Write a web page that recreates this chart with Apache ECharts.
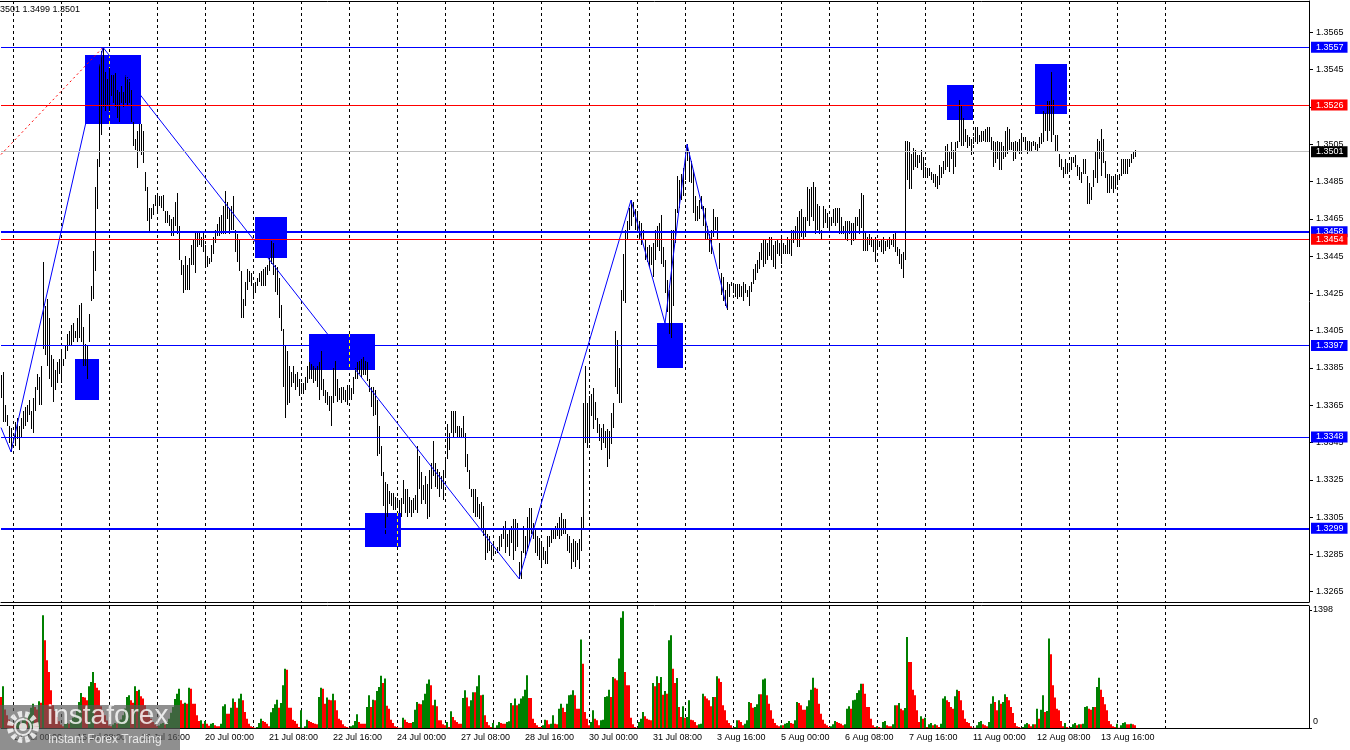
<!DOCTYPE html>
<html><head><meta charset="utf-8">
<script src="https://cdn.jsdelivr.net/npm/echarts@6/dist/echarts.min.js"></script>
<style>html,body{margin:0;padding:0;background:#fff}#c{width:1350px;height:750px}</style>
</head><body><div id="c"></div>
<script>
// ---------------- data (prices as pips above BASE) ----------------
const BASE = 1.3;
const highPips = [
381,383,365,360,354,353,348,356,358,354, 358,362,364,365,368,362,369,375,382,380,
386,442,418,422,412,392,390,384,388,390, 395,390,397,403,405,408,409,405,412,419,
420,407,398,397,414,429,448,482,497,548, 555,557,544,540,546,542,542,543,534,533,
536,533,542,541,540,534,517,508,512,516, 516,512,490,482,471,471,473,478,478,477,
477,478,469,469,467,465,466,474,479,461, 443,440,445,440,444,451,454,458,458,458,
455,458,451,445,444,451,455,459,462,466, 467,472,480,474,471,472,477,459,457,454,
437,422,431,438,437,436,429,431,433,436, 437,438,439,440,444,453,452,440,439,433,
419,406,397,394,386,383,386,382,383,379, 377,377,380,386,388,387,386,385,386,388,
394,379,373,372,370,370,385,389,379,374, 375,375,373,376,375,374,380,385,388,389,
390,391,389,388,379,375,375,373,368,354, 343,329,324,323,319,318,318,316,315,314,
315,325,320,320,316,314,315,317,343,338, 329,322,327,323,330,334,346,334,331,329,
327,330,337,355,350,362,362,362,354,354, 353,359,350,339,330,320,320,320,316,312,
313,311,298,296,295,290,291,287,289,295, 296,300,303,296,298,300,304,304,302,281,
287,300,295,305,310,310,302,298,295,294, 291,289,287,295,295,298,299,300,302,305,
307,304,304,296,295,291,293,292,291,293, 305,366,386,366,370,371,374,367,358,355,
353,355,351,352,351,361,366,405,400,385, 427,446,459,464,471,475,474,470,468,464,
463,459,454,450,451,450,452,459,461,463, 467,450,443,432,427,459,459,470,488,486,
489,492,498,505,501,496,491,477,472,475, 477,472,471,461,457,459,470,466,466,452,
436,434,427,431,430,431,430,430,430,430, 429,431,430,427,429,431,438,441,443,447,
452,454,454,452,455,455,451,453,454,452, 455,452,451,455,454,459,459,461,466,469,
470,466,466,482,481,482,485,482,473,472, 459,472,470,468,465,466,470,471,471,471,
466,461,464,464,464,463,463,466,466,470, 479,478,458,455,457,455,454,455,454,453,
454,455,453,454,455,454,457,458,450,449, 446,447,507,507,506,500,503,502,499,499,
502,498,493,492,492,490,489,489,488,494, 493,496,504,505,501,506,502,506,507,529,
526,519,513,510,509,508,509,514,514,510, 512,512,513,514,514,509,507,506,507,506,
506,504,512,514,513,506,506,507,506,508, 510,509,509,507,507,506,507,506,505,509,
511,523,522,528,528,544,529,510,510,500, 497,493,497,495,495,498,498,499,494,493,
490,497,497,488,484,482,491,501,508,507, 513,508,496,489,489,488,488,489,488,489,
497,497,497,497,497,500,501,502];
const lowPips = [
369,356,356,354,345,340,345,343,347,341, 348,352,354,356,360,352,350,362,373,365,
365,395,392,386,379,375,367,373,377,382, 377,386,390,394,397,397,399,401,399,401,
399,386,386,379,399,421,422,437,470,493, 510,525,523,526,523,531,527,525,519,517,
527,525,527,526,527,517,504,502,492,501, 499,495,480,464,458,465,467,472,469,472,
471,469,463,463,461,456,456,461,457,443, 435,425,427,427,427,440,440,436,450,451,
450,447,439,439,441,442,446,452,456,456, 457,457,457,465,457,459,459,447,442,437,
412,412,418,427,431,429,422,425,429,431, 429,429,429,435,437,441,435,426,424,412,
405,375,358,365,366,375,377,373,375,370, 372,371,373,377,379,379,377,378,375,368,
373,370,366,365,362,354,366,370,367,368, 366,368,367,365,368,368,371,379,379,382,
380,381,381,378,372,364,359,360,338,339, 327,311,296,305,312,311,309,309,310,307,
305,312,307,305,307,305,307,309,307,320, 312,314,312,304,305,320,327,321,320,316,
320,314,327,336,341,350,348,350,348,348, 348,348,332,329,320,316,307,305,305,304,
299,295,282,286,287,282,284,285,286,287, 289,293,286,289,284,291,282,287,289,272,
272,286,283,287,291,296,293,286,284,282, 278,282,280,280,289,291,293,293,295,293,
295,296,296,287,286,277,281,278,282,277, 287,298,345,342,345,359,352,357,350,346,
341,345,342,332,336,344,353,375,371,366, 366,421,420,454,459,461,466,459,459,454,
451,454,443,442,439,440,434,443,450,448, 441,439,425,415,403,401,418,452,468,471,
475,477,486,496,485,484,468,464,464,465, 470,461,454,454,447,446,455,459,454,438,
424,421,418,416,423,429,425,423,422,423, 423,421,425,423,418,426,430,432,436,438,
443,439,441,443,445,443,439,438,446,445, 441,446,446,446,446,445,452,454,450,450,
455,454,455,464,461,466,464,457,459,457, 454,460,463,460,459,461,463,461,463,457,
457,457,454,453,457,451,453,454,461,457, 460,448,448,448,451,450,447,442,449,450,
447,446,448,450,449,451,450,447,445,441, 438,433,443,486,481,481,491,493,492,495,
491,487,487,487,488,486,484,482,481,483, 487,489,491,493,490,497,489,493,503,506,
504,504,506,503,504,499,505,506,505,506, 506,507,506,506,506,502,493,495,497,491,
491,497,498,500,502,502,496,497,501,500, 501,506,502,500,501,501,504,502,501,503,
505,506,512,507,512,506,510,501,501,493, 491,487,489,489,491,491,495,493,488,486,
484,489,489,473,473,475,482,487,484,497, 488,495,487,479,479,481,479,481,483,486,
488,489,489,489,493,495,497,498];
const volumes = [
367,494,220,150,100,60,40,30,60,70, 50,90,120,110,180,240,288,249,220,316,
300,1335,1039,802,664,446,269,200,130,80, 40,20,50,60,50,80,120,150,200,308,
415,367,360,328,494,545,664,533,478,446, 257,200,150,90,30,20,40,60,50,90,
100,150,230,367,387,328,300,494,438,454, 375,348,269,200,150,110,70,40,20,30,
50,60,40,70,110,180,250,344,407,466, 328,288,300,288,478,466,288,288,150,83,
91,51,83,51,28,51,59,32,20,20, 51,257,280,170,170,241,348,308,241,348,
407,328,190,111,51,20,12,3,12,59, 111,83,71,51,20,186,237,280,336,241,
296,506,703,691,241,241,99,83,51,12, 209,3,20,99,83,71,59,51,43,367,
478,466,288,360,336,328,407,328,209,111, 91,43,20,12,3,20,32,83,162,71,
51,51,51,249,387,249,336,328,438,486, 620,533,585,265,229,99,59,20,12,3,
3,122,99,71,59,59,71,217,308,288, 280,328,407,525,573,506,269,336,257,91,
91,43,32,71,12,198,130,91,71,51, 51,356,446,360,257,328,423,423,494,624,
387,395,150,71,32,12,59,3,32,71, 59,51,51,71,79,296,269,348,269,288,
348,375,454,624,356,356,111,59,32,12, 12,32,99,91,43,51,150,51,43,229,
288,241,190,288,387,395,446,387,229,229, 1047,762,190,111,32,71,209,111,91,32,
91,99,367,375,454,367,604,585,565,822, 1307,1383,664,506,506,122,43,12,3,71,
111,190,138,111,99,91,533,494,612,533, 604,395,438,407,1039,1098,703,533,593,249,
130,257,122,130,328,99,91,71,32,43, 51,407,375,348,328,257,367,367,612,585,
545,269,209,91,59,32,3,12,91,91, 71,32,51,91,308,296,241,249,280,399,
399,573,585,387,288,209,111,59,32,20, 32,32,51,59,83,59,51,91,308,296,
269,217,217,257,328,454,596,478,466,288, 170,99,51,32,12,20,43,83,71,59,
51,32,43,229,257,229,328,336,415,446, 525,525,407,249,249,111,32,12,20,12,
3,71,83,32,20,20,43,269,269,296, 229,209,237,1078,782,782,454,387,209,71,
138,111,122,12,43,59,32,43,32,12, 51,348,375,328,308,249,229,375,454,438,
328,209,111,71,59,20,4,2,32,71, 83,43,32,20,71,288,375,308,209,328,
288,308,399,367,328,249,178,59,20,12, 2,12,43,59,43,20,43,43,229,111,
217,387,190,201,1059,873,506,360,229,209, 83,20,59,12,3,12,43,59,32,43,
43,51,249,257,229,217,249,249,486,596, 454,367,280,209,83,43,20,12,51,4,
32,59,67,43,43,51,43,32];

const xTickLabels = ['14 Jul 00:00','15 Jul 08:00','16 Jul 16:00','20 Jul 00:00','21 Jul 08:00','22 Jul 16:00',
  '24 Jul 00:00','27 Jul 08:00','28 Jul 16:00','30 Jul 00:00','31 Jul 08:00','3 Aug 16:00',
  '5 Aug 00:00','6 Aug 08:00','7 Aug 16:00','11 Aug 00:00','12 Aug 08:00','13 Aug 16:00'];
const FIRST_TICK = 6, TICK_STEP = 32, DAY_STEP = 24, LAST_GRID = 582, SLOTS = 655;
const yTicks = [1.3265,1.3285,1.3305,1.3325,1.3345,1.3365,1.3385,1.3405,1.3425,1.3445,1.3465,1.3485,1.3505,1.3525,1.3545,1.3565];
const volTicks = [0, 1398];

const levelPrices = [1.3557, 1.3526, 1.3501, 1.3458, 1.3454, 1.3397, 1.3348, 1.3299];
const levelColors = ['#0000ff','#ff0000','#c0c0c0','#0000ff','#ff0000','#0000ff','#0000ff','#0000ff'];
const levelBoxColors = ['#0000ff','#ff0000','#000000','#0000ff','#ff0000','#0000ff','#0000ff','#0000ff'];
const levelWidths = [1,1,1,2,1,1,1,2];
const fibLabels = ['0.0','','','23.6','','38.2','50.0','61.8'];

const zigzagBars = [0,5,51,259,315,332,343,363];
const zigzagPrices = [1.3353,1.3340,1.3557,1.3272,1.3475,1.3409,1.3505,1.3417];
const fibTrendBars = [0,51];
const fibTrendPrices = [1.34995,1.3557];

const zoneBarFrom = [42,37,127,154,182,328,473,517];
const zoneBarTo = [70,49,143,187,200,341,486,533];
const zonePriceTop = [1.3553,1.3390,1.3466,1.3403,1.3307,1.3409,1.3537,1.3548];
const zonePriceBottom = [1.3516,1.3368,1.3444,1.3384,1.3289,1.3385,1.3518,1.3521];

const headerText = '3501 1.3499 1.3501';

// ---------------- chart ----------------
const FONT = 'Liberation Sans';
const categories = Array.from({length: SLOTS}, (_, i) => String(i));
const isDay = i => i >= FIRST_TICK && i <= LAST_GRID && (i - FIRST_TICK) % DAY_STEP === 0;
const isTick = i => i >= FIRST_TICK && (i - FIRST_TICK) % TICK_STEP === 0 && (i - FIRST_TICK) / TICK_STEP < xTickLabels.length;

const barData = highPips.map((h, i) => [i, BASE + h / 10000, BASE + lowPips[i] / 10000]);
const zoneData = zoneBarFrom.map((k, i) => [k, zoneBarTo[i], zonePriceTop[i], zonePriceBottom[i]]);

function renderBar(params, api) {
  const k = api.value(0);
  const a = api.coord([k, api.value(1)]);
  const b = api.coord([k, api.value(2)]);
  const x = Math.round(a[0]) + 0.5;
  let y1 = Math.round(a[1]), y2 = Math.round(b[1]);
  if (y2 - y1 < 1) y2 = y1 + 1;
  return {type: 'line', shape: {x1: x, y1: y1, x2: x, y2: y2}, style: {stroke: '#000', lineWidth: 1}};
}
function renderZone(params, api) {
  const k1 = api.value(0), k2 = api.value(1);
  const a = api.coord([k1, api.value(2)]);
  const b = api.coord([k2, api.value(3)]);
  const children = [{type: 'rect', shape: {x: Math.round(a[0]), y: Math.round(a[1]), width: Math.round(b[0]) - Math.round(a[0]), height: Math.round(b[1]) - Math.round(a[1])}, style: {fill: '#0000ff'}}];
  for (let d = FIRST_TICK; d <= LAST_GRID; d += DAY_STEP) {
    if (d > k1 && d < k2) {
      const x = Math.round(api.coord([d, api.value(2)])[0]) + 0.5;
      children.push({type: 'line', shape: {x1: x, y1: Math.round(a[1]), x2: x, y2: Math.round(b[1])}, style: {stroke: '#ffff00', lineWidth: 1, lineDash: [3, 3]}});
    }
  }
  return {type: 'group', children: children};
}

const levelLines = levelPrices.map((p, i) => ({
  yAxis: p,
  lineStyle: {color: levelColors[i], width: levelWidths[i], type: 'solid'},
  label: {show: true, position: 'end', distance: 2, formatter: p.toFixed(4), color: '#fff',
    backgroundColor: levelBoxColors[i], padding: [1, 4, 0, 5], fontSize: 9, fontFamily: FONT, lineHeight: 10}
}));
const fibTexts = levelPrices.map((p, i) => fibLabels[i] ? ({
  yAxis: p,
  lineStyle: {opacity: 0, width: 0},
  label: {show: true, position: 'insideEndTop', distance: 1, formatter: fibLabels[i], color: '#0000ff', fontSize: 9, fontFamily: FONT, padding: [0, 1, 0, 0]}
}) : null).filter(Boolean);

const LOGO_FILL = 'rgba(255,255,255,0.8)';
const chart = echarts.init(document.getElementById('c'), null, {renderer: 'canvas'});
chart.setOption({
  animation: false,
  backgroundColor: '#fff',
  grid: [
    {left: 1, top: 1, width: 1308, height: 601},
    {left: 1, top: 606, width: 1308, height: 122}
  ],
  xAxis: [
    {type: 'category', gridIndex: 0, data: categories, boundaryGap: false,
      axisLine: {show: true, lineStyle: {color: '#000', width: 1}}, axisTick: {show: false}, axisLabel: {show: false},
      splitLine: {show: true, interval: isDay, lineStyle: {color: '#000', width: 1, type: [3, 3]}}},
    {type: 'category', gridIndex: 1, data: categories, boundaryGap: false,
      axisLine: {show: true, lineStyle: {color: '#000', width: 1}}, axisTick: {show: false},
      axisLabel: {show: true, interval: isTick, align: 'left', margin: 5, color: '#000', fontSize: 9, fontFamily: FONT,
        formatter: (v, idx) => xTickLabels[(idx - FIRST_TICK) / TICK_STEP] || ''},
      splitLine: {show: true, interval: isDay, lineStyle: {color: '#000', width: 1, type: [3, 3]}}}
  ],
  yAxis: [
    {type: 'value', gridIndex: 0, position: 'right', min: 1.325946, max: 1.358184,
      splitLine: {show: false},
      axisLine: {show: true, lineStyle: {color: '#000', width: 1}},
      axisTick: {show: true, inside: false, length: 4, customValues: yTicks, lineStyle: {color: '#000'}},
      axisLabel: {show: true, customValues: yTicks, margin: 7, color: '#000', fontSize: 9, fontFamily: FONT,
        formatter: v => v.toFixed(4)}},
    {type: 'value', gridIndex: 1, position: 'right', min: 0, max: 1445,
      splitLine: {show: false},
      axisLine: {show: true, lineStyle: {color: '#000', width: 1}},
      axisTick: {show: true, length: 3, customValues: volTicks, lineStyle: {color: '#000'}},
      axisLabel: {show: true, customValues: volTicks, margin: 4, color: '#000', fontSize: 9, fontFamily: FONT,
        formatter: v => v === 0 ? '{z|0}' : '{n|' + v + '}',
        rich: {z: {fontSize: 9, fontFamily: FONT, color: '#000', padding: [0, 0, 12, 0]}, n: {fontSize: 9, fontFamily: FONT, color: '#000'}}}}
  ],
  series: [
    {type: 'custom', name: 'zones', xAxisIndex: 0, yAxisIndex: 0, data: zoneData, renderItem: renderZone,
      encode: {x: [0, 1], y: [2, 3]}, z: 1, silent: true, clip: true},
    {type: 'custom', name: 'bars', xAxisIndex: 0, yAxisIndex: 0, data: barData, renderItem: renderBar,
      encode: {x: 0, y: [1, 2]}, z: 3, silent: true, clip: true},
    {type: 'line', name: 'fibTrend', xAxisIndex: 0, yAxisIndex: 0, data: fibTrendBars.map((k, i) => [k, fibTrendPrices[i]]),
      showSymbol: false, symbol: 'none', lineStyle: {color: '#ff0000', width: 1, type: [2, 3]}, z: 4, silent: true},
    {type: 'line', name: 'zigzag', xAxisIndex: 0, yAxisIndex: 0, data: zigzagBars.map((k, i) => [k, zigzagPrices[i]]),
      showSymbol: false, symbol: 'none', lineStyle: {color: '#0000ff', width: 1}, z: 4, silent: true,
      markLine: {silent: true, symbol: ['none', 'none'], precision: 4, animation: false, data: levelLines.concat(fibTexts)}},
    {type: 'bar', name: 'volume', xAxisIndex: 1, yAxisIndex: 1, data: volumes, barWidth: 2, barGap: '-100%',
      itemStyle: {color: p => (p.dataIndex > 0 && volumes[p.dataIndex] > volumes[p.dataIndex - 1]) ? '#008000' : '#ff0000'},
      silent: true, large: false, z: 2}
  ],
  graphic: {elements: [
    {type: 'line', shape: {x1: 0, y1: 1.5, x2: 1309, y2: 1.5}, style: {stroke: '#000', lineWidth: 1}, z: 10},
    {type: 'line', shape: {x1: 0, y1: 605.5, x2: 1309, y2: 605.5}, style: {stroke: '#000', lineWidth: 1}, z: 10},
    {type: 'text', x: 0, y: 5, style: {text: headerText, fill: '#000', fontSize: 9, fontFamily: FONT}, z: 10},
    {type: 'rect', x: 0, y: 705, shape: {x: 0, y: 0, width: 180, height: 45}, style: {fill: 'rgba(90,90,90,0.68)'}, z: 20},
    {type: 'circle', x: 23, y: 727, shape: {cx: 0, cy: 0, r: 13}, style: {fill: 'none', stroke: LOGO_FILL, lineWidth: 6, lineDash: [4, 3]}, z: 21},
    {type: 'circle', x: 23, y: 727, shape: {cx: 0, cy: 0, r: 8}, style: {fill: 'none', stroke: LOGO_FILL, lineWidth: 2}, z: 21},
    {type: 'circle', x: 23, y: 727, shape: {cx: 0, cy: 0, r: 4}, style: {fill: LOGO_FILL}, z: 21},
    {type: 'text', x: 47, y: 702, style: {text: 'instaforex', fill: LOGO_FILL, fontSize: 28, fontFamily: FONT}, z: 21},
    {type: 'text', x: 48, y: 734, style: {text: 'Instant Forex Trading', fill: LOGO_FILL, fontSize: 12, fontFamily: FONT}, z: 21}
  ]}
});
</script>
</body></html>
